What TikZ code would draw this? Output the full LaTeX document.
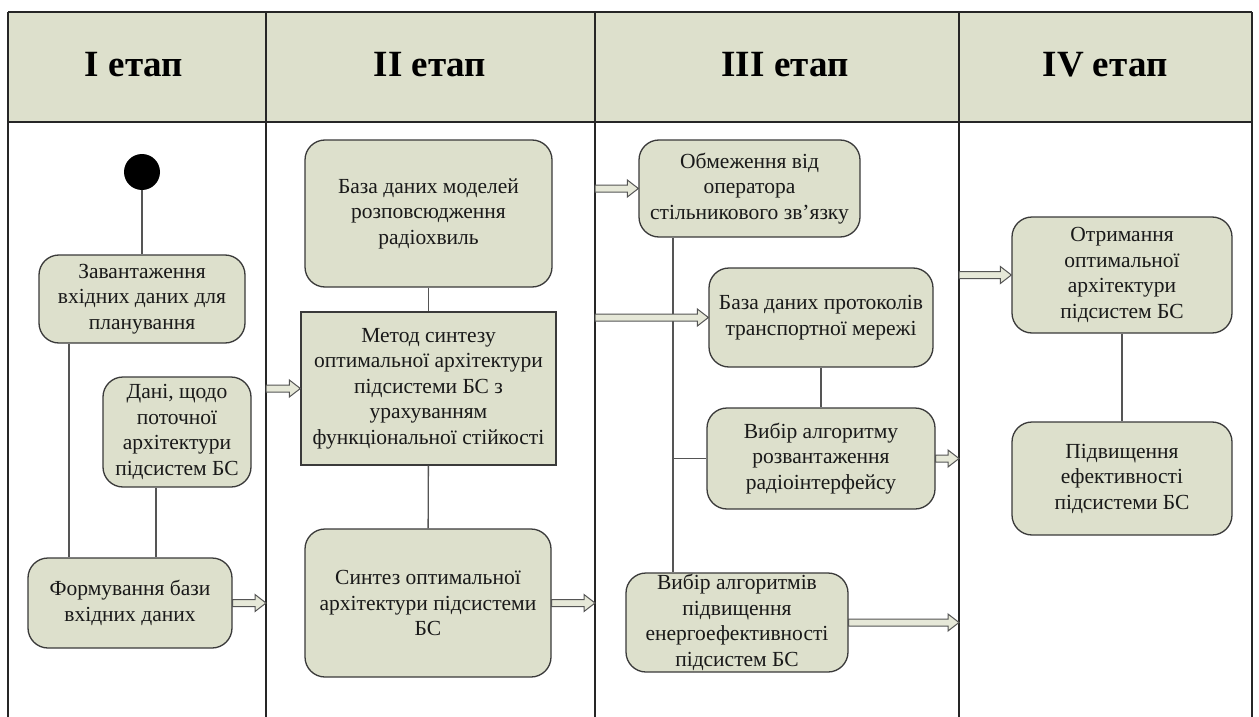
\documentclass[tikz,border=0pt]{standalone}
\usepackage{fontspec}
\setmainfont{Liberation Serif}
\usetikzlibrary{calc}
\definecolor{boxfill}{HTML}{DDE0CC}
\definecolor{headfill}{HTML}{DDE0CC}
\definecolor{arrfill}{HTML}{E6E8D8}
\definecolor{edge}{HTML}{3A3A3A}
\definecolor{wire}{HTML}{555555}
\tikzset{
  x=1pt, y=-1pt,
  box/.style={draw=edge, line width=1.3pt, fill=boxfill, rounded corners=20pt,
    inner sep=0pt, align=center, text=black!90,
    font=\fontsize{21.5}{25.5}\selectfont},
  sqbox/.style={box, rounded corners=0pt},
  stage/.style={font=\fontsize{37}{40}\selectfont\bfseries, text=black},
  wireline/.style={draw=wire, line width=1.4pt},
  frame/.style={draw=black!85, line width=1.2pt},
  blockarr/.style={draw=wire, line width=1pt, fill=arrfill, line join=miter},
}
% hollow block arrow from the first point horizontally to the second
\newcommand\blockarrow[2]{%
  \path[blockarr] let \p1=(#1), \p2=(#2) in
    (\x1,\y1+3.5pt) -- (\x2-11pt,\y1+3.5pt) -- (\x2-11pt,\y1+8.5pt) -- (\x2,\y1)
    -- (\x2-11pt,\y1-8.5pt) -- (\x2-11pt,\y1-3.5pt) -- (\x1,\y1-3.5pt) -- cycle;}
\begin{document}
\begin{tikzpicture}
\useasboundingbox (0,0) rectangle (1259,717);
\fill[white] (0,0) rectangle (1259,717);

% header band and lane frame
\fill[headfill] (8,12) rectangle (1252,122);
\coordinate (d0) at (8,0);
\coordinate (d1) at (266,0);
\coordinate (d2) at (595,0);
\coordinate (d3) at (959,0);
\coordinate (d4) at (1252,0);
\draw[frame] (8,12) -- (1252,12);
\draw[frame] (8,122) -- (1252,122);
\foreach \c in {d0,d1,d2,d3,d4} \draw[frame] (\c |- 0,12) -- (\c |- 0,717);

\node[stage] (h1) at (134,65) {I етап};
\node[stage] (h2) at (430,65) {II етап};
\node[stage] (h3) at (785,65) {III етап};
\node[stage] (h4) at (1105,65) {IV етап};

% stage I
\node[circle, fill=black, minimum size=36pt, inner sep=0pt] (s) at (142,172) {};
\node[box, minimum width=206pt, minimum height=88pt] (n1) at (142,299)
  {Завантаження\\вхідних даних для\\планування};
\node[box, minimum width=148pt, minimum height=110pt] (n2) at (177,432)
  {Дані, щодо\\поточної\\архітектури\\підсистем БС};
\node[box, minimum width=204pt, minimum height=90pt] (n3) at (130,603)
  {Формування бази\\вхідних даних};

% stage II
\node[box, minimum width=247pt, minimum height=147pt] (n4) at (428.5,213.5)
  {База даних моделей\\розповсюдження\\радіохвиль};
\node[sqbox, minimum width=255pt, minimum height=153pt] (n5) at (428.5,388.5)
  {Метод синтезу\\оптимальної архітектури\\підсистеми БС з\\урахуванням\\функціональної стійкості};
\node[box, minimum width=246pt, minimum height=148pt] (n6) at (428,603)
  {Синтез оптимальної\\архітектури підсистеми\\БС};

% stage III
\node[box, minimum width=221pt, minimum height=97pt] (n7) at (749.5,188.5)
  {Обмеження від\\оператора\\стільникового зв’язку};
\node[box, minimum width=224pt, minimum height=99pt] (n8) at (821,317.5)
  {База даних протоколів\\транспортної мережі};
\node[box, minimum width=228pt, minimum height=101pt] (n9) at (821,458.5)
  {Вибір алгоритму\\розвантаження\\радіоінтерфейсу};
\node[box, minimum width=222pt, minimum height=99pt] (n10) at (737,622.5)
  {Вибір алгоритмів\\підвищення\\енергоефективності\\підсистем БС};

% stage IV
\node[box, minimum width=220pt, minimum height=116pt] (n11) at (1122,275)
  {Отримання\\оптимальної\\архітектури\\підсистем БС};
\node[box, minimum width=220pt, minimum height=113pt] (n12) at (1122,478.5)
  {Підвищення\\ефективності\\підсистеми БС};

% plain connectors
\coordinate (x1) at (69,0);
\coordinate (x2) at (156,0);
\coordinate (x3) at (673,0);
\draw[wireline] (s) -- (n1);
\draw[wireline] (n1.south -| x1) -- (n3.north -| x1);
\draw[wireline] (n2.south -| x2) -- (n3.north -| x2);
\draw[wireline] (n4) -- (n5);
\draw[wireline] (n5) -- (n6);
\draw[wireline] (n7.south -| x3) -- (n10.north -| x3);
\draw[wireline] (n9.west -| x3) -- (n9.west);
\draw[wireline] (n8) -- (n9);
\draw[wireline] (n11) -- (n12);

% block arrows between lanes
\blockarrow{n3.east}{n3.east -| d1}
\blockarrow{n5.west -| d1}{n5.west}
\blockarrow{n6.east}{n6.east -| d2}
\blockarrow{n7.west -| d2}{n7.west}
\blockarrow{n8.west -| d2}{n8.west}
\blockarrow{n9.east}{n9.east -| d3}
\blockarrow{n10.east}{n10.east -| d3}
\blockarrow{n11.west -| d3}{n11.west}
\end{tikzpicture}
\end{document}
